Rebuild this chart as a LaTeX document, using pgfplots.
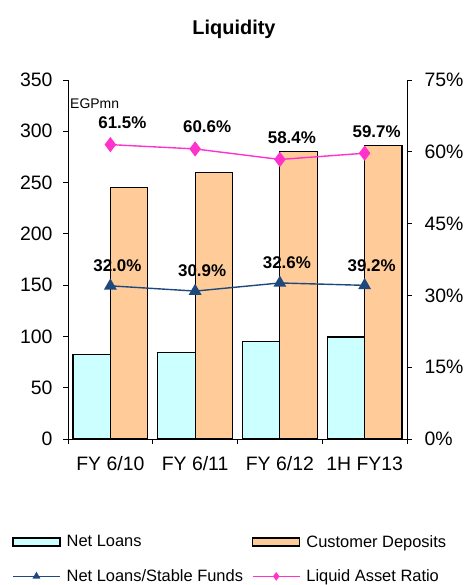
\documentclass[border=0pt]{standalone}
\usepackage{fontspec}
\setmainfont{Liberation Sans}
\usepackage{pgfplots}
\pgfplotsset{compat=1.18}

\definecolor{loancol}{RGB}{204,255,255}
\definecolor{depcol}{RGB}{255,204,153}
\definecolor{nlsf}{RGB}{31,73,125}
\definecolor{lar}{RGB}{255,51,204}

\pgfplotsset{
  barlegend/.style={legend image code/.code={%
    \draw[##1,line width=1.2bp] (0bp,-4bp) rectangle (47bp,4bp);}},
  linelegend/.style={legend image code/.code={%
    \draw[mark repeat=2,mark phase=2,mark size=3.2bp,##1]
      plot coordinates {(0bp,0bp) (23.5bp,0bp) (47bp,0bp)};}},
  common/.style={
    at={(68bp,146bp)}, anchor=south west,
    scale only axis, width=339bp, height=359bp,
    xmin=-0.5, xmax=3.5, ymin=0,
    tick align=outside,
    tick style={black, line width=0.8bp},
    major tick length=5bp, minor tick length=5bp,
    axis line style={black, line width=0.8bp},
    /pgf/number format/assume math mode=true,
    tick label style={font=\fontsize{19.5}{22}\selectfont},
  },
}

\begin{document}
\begin{tikzpicture}
\useasboundingbox (0,0) rectangle (468bp,585bp);
\node[font=\bfseries\fontsize{20}{24}\selectfont] at (234bp,556bp) {Liquidity};

% bars, left axis (EGPmn)
\begin{axis}[
  common,
  ymax=350, ytick={0,50,...,350},
  axis y line*=left, axis x line*=bottom,
  yticklabel style={xshift=-7bp},
  xticklabel style={yshift=-9bp},
  xtick={0,1,2,3},
  xticklabels={FY 6/10, FY 6/11, FY 6/12, 1H FY13},
  major x tick style={draw=none},
  minor xtick={-0.5,0.5,1.5,2.5,3.5},
  ybar=0pt, bar width=0.44,
]
\addplot[fill=loancol, draw=black, line width=1.2bp, bar shift=-0.22]
  coordinates {(0,82.6) (1,84.1) (2,94.8) (3,99.4)};
\addplot[fill=depcol, draw=black, line width=1.2bp, bar shift=0.22]
  coordinates {(0,245.3) (1,260.2) (2,280.0) (3,286.5)};
\node[anchor=west, font=\fontsize{14}{16}\selectfont, inner sep=0pt]
  at (axis description cs:0.006,0.933) {EGPmn};
\end{axis}

% ratios, right axis
\begin{axis}[
  common,
  ymax=75, ytick={0,15,...,75},
  yticklabel={\pgfmathprintnumber{\tick}\%},
  yticklabel style={xshift=9bp},
  axis y line*=right, axis x line=none,
  clip=false,
  point meta=explicit symbolic,
  legend columns=2,
  legend cell align=left,
  legend style={draw=none, fill=none, inner sep=0pt,
    at={(axis description cs:-0.165,-0.262)}, anchor=north west,
    font=\fontsize{16.5}{19}\selectfont,
    row sep=17bp,
    /tikz/every odd column/.append style={column sep=4bp},
    /tikz/every even column/.append style={column sep=7bp}},
]
\addlegendimage{barlegend, fill=loancol, draw=black}
\addlegendentry{Net Loans}
\addlegendimage{barlegend, fill=depcol, draw=black}
\addlegendentry{Customer Deposits}

\addplot[color=nlsf, line width=1.4bp, mark=triangle*, mark size=6bp,
  linelegend,
  nodes near coords,
  every node near coord/.style={anchor=center, xshift=7bp, yshift=20bp,
    text=black, font=\bfseries\fontsize{17}{19}\selectfont}]
  coordinates {(0,32.0) [32.0\%] (1,30.9) [30.9\%] (2,32.6) [32.6\%] (3,32.1) [39.2\%]};
\addlegendentry{Net Loans/Stable Funds}

\addplot[color=lar, line width=1.4bp, mark=diamond*, mark size=6.5bp,
  linelegend,
  nodes near coords,
  every node near coord/.style={anchor=center, xshift=12bp, yshift=22bp,
    text=black, font=\bfseries\fontsize{17}{19}\selectfont}]
  coordinates {(0,61.5) [61.5\%] (1,60.6) [60.6\%] (2,58.4) [58.4\%] (3,59.7) [59.7\%]};
\addlegendentry{Liquid Asset Ratio}
\end{axis}
\end{tikzpicture}
\end{document}
